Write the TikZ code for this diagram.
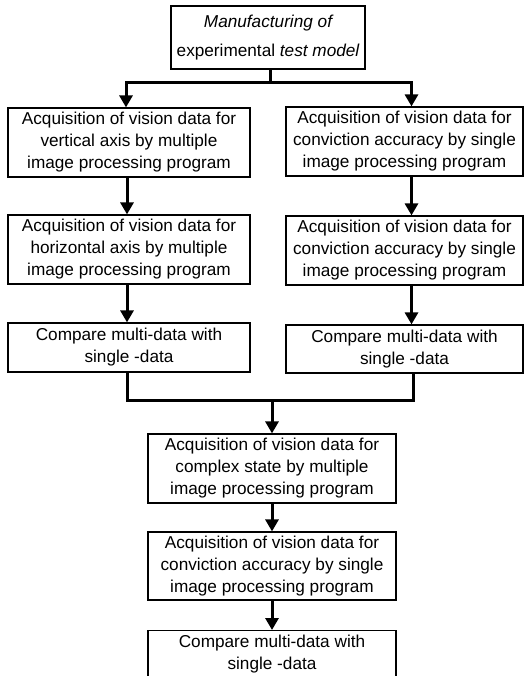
\documentclass[tikz,border=0pt]{standalone}
\usepackage{fontspec}
\setmainfont{Liberation Sans}
\usetikzlibrary{arrows.meta}
\begin{document}
\begin{tikzpicture}[x=1pt,y=-1pt,
  box/.style={draw,line width=1.2pt,rectangle,align=center,inner sep=0pt,
    font=\fontsize{17.2}{22}\selectfont},
  conn/.style={line width=3pt},
  arr/.style={line width=3pt,-{Triangle[length=12pt,width=13pt]}}]
\useasboundingbox (0,0) rectangle (529,676);
% top
\node[box,minimum width=194pt,minimum height=63pt] (top) at (268,37.5)
  {\itshape Manufacturing of\\[7pt] experimental {\itshape test model}};
% left column
\node[box,minimum width=242pt,minimum height=69pt] (L1) at (129,142.5)
  {Acquisition of vision data for\\vertical axis by multiple\\image processing program};
\node[box,minimum width=242pt,minimum height=69pt] (L2) at (129,249.5)
  {Acquisition of vision data for\\horizontal axis by multiple\\image processing program};
\node[box,minimum width=242pt,minimum height=49pt] (L3) at (129,347.5)
  {Compare multi-data with\\single -data};
% right column
\node[box,minimum width=237pt,minimum height=69pt] (R1) at (404.5,141.5)
  {Acquisition of vision data for\\conviction accuracy by single\\image processing program};
\node[box,minimum width=237pt,minimum height=69pt] (R2) at (404.5,250.5)
  {Acquisition of vision data for\\conviction accuracy by single\\image processing program};
\node[box,minimum width=237pt,minimum height=48pt] (R3) at (404.5,349)
  {Compare multi-data with\\single -data};
% centre column
\node[box,minimum width=248pt,minimum height=69pt] (C1) at (272,468.5)
  {Acquisition of vision data for\\complex state by multiple\\image processing program};
\node[box,minimum width=248pt,minimum height=68pt] (C2) at (272,566)
  {Acquisition of vision data for\\conviction accuracy by single\\image processing program};
\node[box,minimum width=248pt,minimum height=46pt,anchor=north] (C3) at (272,630)
  {Compare multi-data with\\single -data};
% connectors from top
\coordinate (bus) at (270,83);
\draw[conn] ([xshift=2pt]top.south) -- (bus);
\draw[arr] ([xshift=1.5pt]bus) -| ([xshift=-3pt]L1.north);
\draw[arr] ([xshift=-1.5pt]bus) -| ([xshift=7pt]R1.north);
% column arrows
\draw[arr] ([xshift=-2pt]L1.south) -- ([xshift=-2pt]L2.north);
\draw[arr] ([xshift=-2pt]L2.south) -- ([xshift=-2pt]L3.north);
\draw[arr] ([xshift=7pt]R1.south) -- ([xshift=7pt]R2.north);
\draw[arr] ([xshift=7pt]R2.south) -- ([xshift=7pt]R3.north);
% merge
\coordinate (mbus) at (272,400);
\draw[conn] ([xshift=-2pt]L3.south) |- (mbus);
\draw[conn] ([xshift=8.5pt]R3.south) |- (mbus);
\draw[arr] (mbus) -- (C1.north);
\draw[arr] (C1.south) -- (C2.north);
\draw[arr] (C2.south) -- (C3.north);
\end{tikzpicture}
\end{document}
